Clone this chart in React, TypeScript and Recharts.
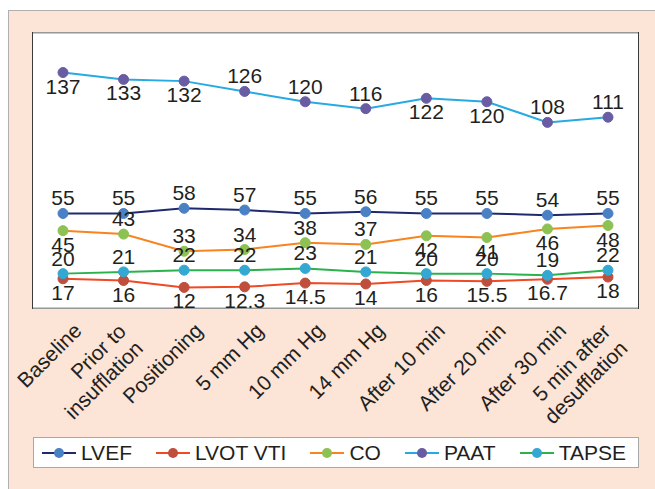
import React from "react"
import { LineChart, Line, XAxis, YAxis, CartesianGrid, LabelList } from "recharts"

const categories = [
  "Baseline",
  "Prior to\ninsufflation",
  "Positioning",
  "5 mm Hg",
  "10 mm Hg",
  "14 mm Hg",
  "After 10 min",
  "After 20 min",
  "After 30 min",
  "5 min after\ndesufflation",
]
const lvef = [55, 55, 58, 57, 55, 56, 55, 55, 54, 55]
const lvotVti = [17, 16, 12, 12.3, 14.5, 14, 16, 15.5, 16.7, 18]
const co = [45, 43, 33, 34, 38, 37, 42, 41, 46, 48]
const paat = [137, 133, 132, 126, 120, 116, 122, 120, 108, 111]
const tapse = [20, 21, 22, 22, 23, 21, 20, 20, 19, 22]
const yTicks = [0, 20, 40, 60, 80, 100, 120, 140, 160]

// which side of the point each value label sits on
const T = "top"
const B = "bottom"
const allTop = categories.map(() => T)
const allBottom = categories.map(() => B)
const coSides = [B, T, T, T, T, T, B, B, B, B]
const paatSides = [B, B, B, T, T, T, B, B, T, T]

const data = categories.map((label, i) => ({
  label,
  lvef: lvef[i],
  lvotVti: lvotVti[i],
  co: co[i],
  paat: paat[i],
  tapse: tapse[i],
}))

const series = [
  { key: "lvef", name: "LVEF", line: "#1f2a6e", dot: "#4a80c4", sides: allTop },
  { key: "lvotVti", name: "LVOT VTI", line: "#ef4a23", dot: "#bf4e3c", sides: allBottom },
  { key: "co", name: "CO", line: "#f7841f", dot: "#8dc153", sides: coSides },
  { key: "paat", name: "PAAT", line: "#27aae1", dot: "#6a5ca3", sides: paatSides },
  { key: "tapse", name: "TAPSE", line: "#2bb24c", dot: "#33a8d2", sides: allTop },
]

const FONT = "'Liberation Sans', Arial, sans-serif"
const INK = "#231f20"
const FS = 21

const makeLabel = (sides: string[]) => (props: any) => {
  const vb = props.viewBox || {}
  const x = props.x ?? vb.x
  const y = props.y ?? vb.y
  const side = sides[props.index] || T
  return (
    <text
      x={x}
      y={side === T ? y - 8 : y + 21}
      textAnchor="middle"
      fontSize={FS}
      fontFamily={FONT}
      fill={INK}
    >
      {props.value}
    </text>
  )
}

const CategoryTick = (props: any) => {
  const { x, y, payload } = props
  const lines = String(payload.value).split("\n")
  return (
    <g transform={`translate(${x + 20},${y + 16})`}>
      <g transform="rotate(-45)">
        {lines.length === 1 ? (
          <text x={0} y={0} textAnchor="end" fontSize={FS} fontFamily={FONT} fill={INK}>
            {lines[0]}
          </text>
        ) : (
          lines.map((t, i) => (
            <text key={i} x={-12} y={-11 + i * 24} textAnchor="end" fontSize={FS} fontFamily={FONT} fill={INK}>
              {t}
            </text>
          ))
        )}
      </g>
    </g>
  )
}

export default function App() {
  return (
    <div
      style={{
        position: "fixed",
        left: 8,
        top: 10,
        width: 647,
        height: 479,
        boxSizing: "border-box",
        background: "#fce4d6",
        borderTop: "1px solid #b0b0b0",
        borderLeft: "1px solid #b0b0b0",
        fontFamily: FONT,
      }}
    >
      <div
        style={{
          position: "absolute",
          left: 23,
          top: 21,
          width: 607,
          height: 277,
          boxSizing: "border-box",
          background: "#ffffff",
          border: "1.5px solid #3a3a3a",
        }}
      />
      <div style={{ position: "absolute", left: 0, top: 0 }}>
        <LineChart width={646} height={478} data={data} margin={{ top: 22, right: 17, left: 24, bottom: 81 }}>
          <CartesianGrid vertical={false} stroke="#b9b9b9" strokeWidth={1.5} />
          <YAxis
            domain={[0, 160]}
            ticks={yTicks}
            width={0}
            tick={false}
            axisLine={false}
            tickLine={false}
          />
          <XAxis
            dataKey="label"
            scale="point"
            padding={{ left: 30, right: 30 }}
            height={100}
            interval={0}
            axisLine={false}
            tickLine={false}
            tick={<CategoryTick />}
          />
          {series.map((s) => (
            <Line
              key={s.key}
              dataKey={s.key}
              name={s.name}
              stroke={s.line}
              strokeWidth={2}
              dot={{ r: 5, fill: s.dot, stroke: s.dot, strokeWidth: 1 }}
              isAnimationActive={false}
            >
              <LabelList dataKey={s.key} content={makeLabel(s.sides)} />
            </Line>
          ))}
        </LineChart>
      </div>
      <div
        style={{
          position: "absolute",
          left: 24,
          top: 426,
          width: 606,
          height: 31,
          boxSizing: "border-box",
          background: "#ffffff",
          border: "1.5px solid #a8a8a8",
          display: "flex",
          alignItems: "center",
          paddingLeft: 8,
          gap: 24,
          fontSize: FS,
          color: INK,
        }}
      >
        {series.map((s) => (
          <div key={s.key} style={{ display: "flex", alignItems: "center" }}>
            <svg width={34} height={12} style={{ marginRight: 5 }}>
              <line x1={0} y1={6} x2={34} y2={6} stroke={s.line} strokeWidth={2} />
              <circle cx={17} cy={6} r={5} fill={s.dot} />
            </svg>
            <span>{s.name}</span>
          </div>
        ))}
      </div>
    </div>
  )
}
